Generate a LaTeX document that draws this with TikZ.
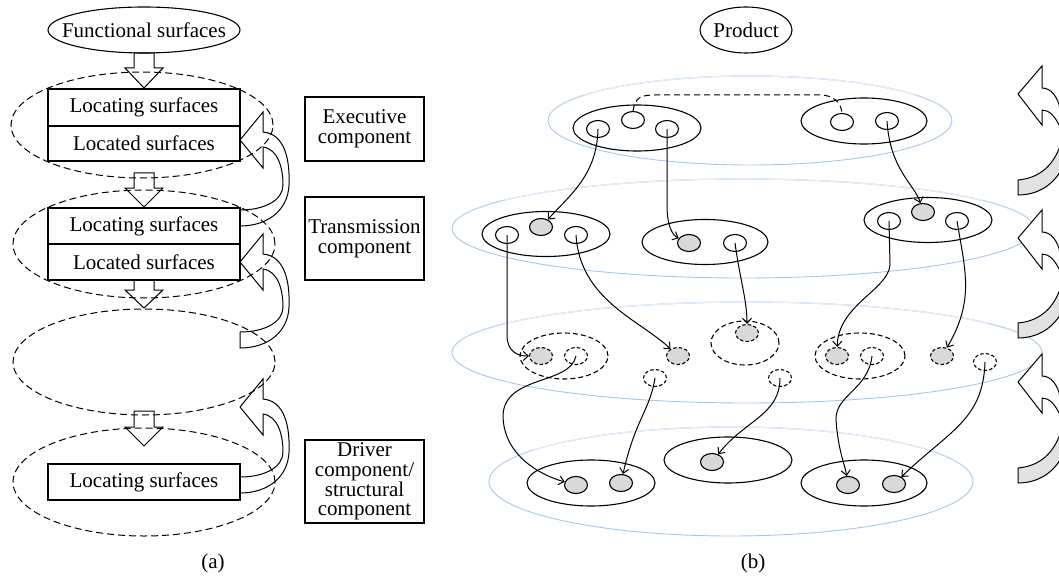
\documentclass[tikz,border=0pt]{standalone}
\usepackage{fontspec}
\setmainfont{Liberation Serif}
\usetikzlibrary{shapes.geometric,arrows.meta}
\definecolor{gfill}{HTML}{D9D9D9}
\definecolor{bandgray}{HTML}{E2E2E2}
\definecolor{laydark}{HTML}{A8C6E5}
\definecolor{laymid}{HTML}{C6DAEE}
\definecolor{laylight}{HTML}{E4EEF8}
\newcommand\drawlayer[4]{%
  \draw[laydark, line width=0.9pt] (#1,#2) ellipse [x radius=#3, y radius=#4];
  \draw[laymid, line width=1pt] (#1,#2) ++(190:#3 and #4) arc[start angle=190, end angle=350, x radius=#3, y radius=#4];
  \draw[laylight, line width=1.1pt] (#1,#2) ++(215:#3 and #4) arc[start angle=215, end angle=325, x radius=#3, y radius=#4];
}
\tikzset{
  txt/.style={font=\fontsize{21}{19.6}\selectfont, inner sep=0pt},
  sbox/.style={draw, line width=1.1pt, inner sep=0pt, minimum width=192pt, fill=white, txt},
  cbox/.style={draw, line width=1.1pt, inner sep=0pt, minimum width=119pt, align=center, txt},
  dell/.style={draw, ellipse, line width=1pt, dash pattern=on 7pt off 4pt, inner sep=0pt},
  oval/.style={draw, ellipse, line width=1.1pt, inner sep=0pt},
  comp/.style={oval, fill=white},
  sub/.style={draw, ellipse, line width=1.1pt, inner sep=0pt, minimum width=23pt, minimum height=17pt, fill=white},
  gsub/.style={sub, fill=gfill},
  dsub/.style={sub, dash pattern=on 3.5pt off 2.2pt},
  dgsub/.style={gsub, dash pattern=on 3.5pt off 2.2pt},
  dgrp/.style={draw, ellipse, line width=1.1pt, inner sep=0pt, dash pattern=on 5pt off 3pt},
  link/.style={line width=1pt, -{Straight Barb[length=5pt,width=9pt]}},
  hollow/.style={line width=1pt, line join=miter},
  ribbon/.pic={
    \draw[hollow] (0,0) -- (23,-28) -- (23,-8)
      .. controls (45,-6) and (50,20) .. (49,45)
      .. controls (48,70) and (28,86) .. (0,86) -- (0,70)
      .. controls (25,70) and (43,60) .. (43,45)
      .. controls (43,28) and (38,9) .. (23,7) -- (23,28) -- cycle;
  },
  headarrow/.pic={
    \filldraw[hollow, fill=white] (0,0) -- (24,-28) -- (24,-6)
      .. controls (33,-6) and (40,3) .. (42,15) -- (60,15) -- (60,40) -- (42,33)
      .. controls (37,22) and (31,16) .. (24,16) -- (24,31) -- cycle;
  },
  bandarrow/.pic={
    \filldraw[hollow, fill=bandgray] (0,0)
      .. controls (22,-2) and (37,-15) .. (44,-40) -- (60,-40) -- (60,0) -- (48,-22)
      .. controls (42,0) and (24,15) .. (0,15) -- cycle;
  }
}
\begin{document}
\begin{tikzpicture}[x=1pt,y=-1pt]
\useasboundingbox (0,0) rectangle (1059,580);
\clip (0,0) rectangle (1059,580);

% ---------------- (a) ----------------
\node[oval, minimum width=192pt, minimum height=46pt] (fsov) at (144,30) {};
\node[txt] (fs) at (fsov.center) {Functional surfaces};

\node[dell, minimum width=262pt, minimum height=106pt] (lev1) at (142,125) {};
\node[dell, minimum width=262pt, minimum height=108pt] (lev2) at (144,244) {};
\node[dell, minimum width=262pt, minimum height=106pt] (lev3) at (144,362) {};
\node[dell, minimum width=262pt, minimum height=108pt] (lev4) at (144,482) {};

\node[sbox, minimum height=37pt] (loc1) at (144,107.5) {Locating surfaces};
\node[sbox, minimum height=35pt] (lcd1) at (144,143.5) {Located surfaces};
\node[sbox, minimum height=36pt] (loc2) at (144,226) {Locating surfaces};
\node[sbox, minimum height=36pt] (lcd2) at (144,262) {Located surfaces};
\node[sbox, minimum height=36pt] (loc3) at (144,482) {Locating surfaces};

% hollow down arrows
\draw[hollow] (134,53) -- (134,68) -- (125,68) -- (144,88) -- (163,68) -- (154,68) -- (154,53) -- cycle;
\draw[hollow] (134,173) -- (134,188) -- (125,188) -- (144,207) -- (163,188) -- (154,188) -- (154,173) -- cycle;
\draw[hollow] (134,280) -- (134,290) -- (125,290) -- (144,308) -- (163,290) -- (154,290) -- (154,280) -- cycle;
\draw[hollow] (134,411) -- (134,427) -- (125,427) -- (144,446) -- (163,427) -- (154,427) -- (154,411) -- cycle;

% curved ribbon arrows
\pic at (240,140) {ribbon};
\pic at (240,262) {ribbon};
\pic at (240,407) {ribbon};

\node[cbox, minimum height=64pt] (exe) at (364.5,129) {Executive\\component};
\node[cbox, minimum height=83pt] (tra) at (364.5,238.5) {Transmission\\component};
\node[cbox, minimum height=83pt] (drv) at (364.5,481.5) {Driver\\component/\\structural\\component};

\node[txt] (capa) at (213,563) {(a)};

% ---------------- (b) ----------------
\node[oval, minimum width=92pt, minimum height=46pt] (prov) at (746,30) {};
\node[txt] (pr) at (prov.center) {Product};

\drawlayer{750}{120.5}{202}{44.5}
\drawlayer{743}{228.5}{291}{49.5}
\drawlayer{747}{352.5}{295}{50.5}
\drawlayer{731}{481.5}{242}{54.5}

% layer 1
\node[comp, minimum width=128pt, minimum height=46pt] (E1a) at (637,128) {};
\node[comp, minimum width=126pt, minimum height=46pt] (E1b) at (864,121) {};
\node[sub] (a1) at (598,129) {};
\node[sub] (a2) at (633,120) {};
\node[sub] (a3) at (667,129) {};
\node[sub] (a4) at (842,122) {};
\node[sub] (a5) at (887,121) {};
\draw[line width=1pt, dash pattern=on 6pt off 4pt] (a2.north) .. controls (635,98) and (640,95) .. (655,95) -- (820,95) .. controls (834,95) and (841,103) .. (a4.north);

% layer 2
\node[comp, minimum width=128pt, minimum height=45pt] (E2a) at (546,234) {};
\node[comp, minimum width=126pt, minimum height=45pt] (E2b) at (705,242) {};
\node[comp, minimum width=128pt, minimum height=45pt] (E2c) at (928,220) {};
\node[sub] (b1) at (507,235) {};
\node[gsub] (b2) at (541,227) {};
\node[sub] (b3) at (576,235) {};
\node[gsub] (b4) at (689,243) {};
\node[sub] (b5) at (735,243) {};
\node[sub] (b6) at (889,221) {};
\node[gsub] (b7) at (923,212) {};
\node[sub] (b8) at (957,221) {};

% layer 3
\node[dgrp, minimum width=88pt, minimum height=46pt] (D1) at (564,356) {};
\node[dgrp, minimum width=68pt, minimum height=44pt] (D2) at (745,343) {};
\node[dgrp, minimum width=90pt, minimum height=46pt] (D3) at (860,356) {};
\node[dgsub] (c1) at (541,356) {};
\node[dsub] (c2) at (576,356) {};
\node[dgsub] (c3) at (678,356) {};
\node[dsub] (c4) at (655,378) {};
\node[dgsub] (c5) at (747,333) {};
\node[dsub] (c6) at (780,378) {};
\node[dgsub] (c7) at (837,356) {};
\node[dsub] (c8) at (872,356) {};
\node[dgsub] (c9) at (942,356) {};
\node[dsub] (c10) at (985,362) {};

% layer 4
\node[comp, minimum width=128pt, minimum height=46pt] (E4a) at (591,483) {};
\node[comp, minimum width=128pt, minimum height=46pt] (E4b) at (728,460) {};
\node[comp, minimum width=126pt, minimum height=46pt] (E4c) at (864,483) {};
\node[gsub] (d1) at (576,485) {};
\node[gsub] (d2) at (621,483) {};
\node[gsub] (d3) at (712,462) {};
\node[gsub] (d4) at (848,485) {};
\node[gsub] (d5) at (894,484) {};

% connectors
\draw[link] (a1.center) .. controls (597,175) and (570,195) .. (b2);
\draw[link] (a3.center) -- (667,205) .. controls (667,225) and (672,235) .. (b4);
\draw[link] (a5.center) .. controls (890,170) and (915,185) .. (b7);
\draw[link] (b1.center) -- (507,335) .. controls (507,352) and (518,356) .. (c1);
\draw[link] (b3.center) .. controls (580,300) and (640,320) .. (c3);
\draw[link] (b5.center) .. controls (740,280) and (747,300) .. (c5);
\draw[link] (b6.center) -- (890,265) .. controls (888,290) and (838,305) .. (c7);
\draw[link] (b8.center) .. controls (965,270) and (975,300) .. (c9);
\draw[link] (c2.center) .. controls (570,385) and (505,375) .. (503,415) .. controls (503,455) and (540,475) .. (d1);
\draw[link] (c4.center) .. controls (650,410) and (635,420) .. (d2);
\draw[link] (c6.center) .. controls (780,415) and (745,420) .. (d3);
\draw[link] (c8.center) .. controls (868,390) and (835,395) .. (836,420) .. controls (838,450) and (845,465) .. (d4);
\draw[link] (c10.center) .. controls (983,420) and (950,430) .. (d5);

% right circular arrows
\pic at (1018,94) {headarrow};
\pic at (1018,238) {headarrow};
\pic at (1018,382) {headarrow};
\pic at (1018,180) {bandarrow};
\pic at (1018,323) {bandarrow};
\pic at (1018,468) {bandarrow};

\node[txt] (capb) at (753,563) {(b)};
\end{tikzpicture}
\end{document}
